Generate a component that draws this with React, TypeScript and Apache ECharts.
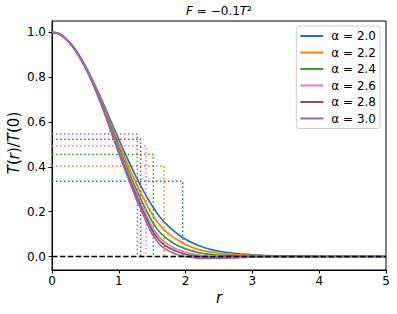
import React, { useEffect, useRef } from "react";
import * as echarts from "echarts";

const R = [0, 0.1, 0.2, 0.3, 0.4, 0.5, 0.6, 0.7, 0.8, 0.9, 1.0, 1.1, 1.2, 1.3, 1.4, 1.5, 1.6, 1.7, 1.8, 1.9, 2.0, 2.1, 2.2, 2.3, 2.4, 2.6, 2.8, 3.0, 3.25, 3.5, 4.0, 4.5, 5.0];

const A20 = [1.000, 0.994, 0.974, 0.943, 0.901, 0.850, 0.791, 0.727, 0.660, 0.591, 0.522, 0.455, 0.392, 0.332, 0.276, 0.225, 0.182, 0.148, 0.120, 0.096, 0.077, 0.061, 0.048, 0.038, 0.030, 0.019, 0.012, 0.008, 0.004, 0.002, 0, 0, 0];
const A22 = [1.000, 0.994, 0.973, 0.942, 0.899, 0.847, 0.787, 0.721, 0.650, 0.576, 0.503, 0.433, 0.366, 0.302, 0.242, 0.188, 0.145, 0.113, 0.089, 0.070, 0.054, 0.041, 0.031, 0.024, 0.019, 0.011, 0.007, 0.005, 0.003, 0.001, 0, 0, 0];
const A24 = [1.000, 0.993, 0.973, 0.941, 0.898, 0.845, 0.784, 0.715, 0.642, 0.564, 0.487, 0.413, 0.342, 0.275, 0.212, 0.156, 0.113, 0.084, 0.063, 0.047, 0.034, 0.025, 0.017, 0.012, 0.009, 0.004, 0.002, 0.002, 0.001, 0.001, 0, 0, 0];
const A26 = [1.000, 0.993, 0.972, 0.940, 0.896, 0.843, 0.781, 0.711, 0.635, 0.554, 0.475, 0.399, 0.325, 0.256, 0.191, 0.132, 0.089, 0.062, 0.043, 0.029, 0.019, 0.012, 0.007, 0.003, 0.001, -0.001, -0.001, 0, 0, 0, 0, 0, 0];
const A28 = [1.000, 0.993, 0.972, 0.940, 0.896, 0.842, 0.780, 0.709, 0.631, 0.548, 0.467, 0.390, 0.315, 0.243, 0.178, 0.117, 0.074, 0.048, 0.031, 0.019, 0.010, 0.004, 0.000, -0.002, -0.003, -0.004, -0.003, -0.002, -0.001, 0, 0, 0, 0];
const A30 = [1.000, 0.993, 0.972, 0.939, 0.895, 0.841, 0.778, 0.706, 0.627, 0.543, 0.460, 0.380, 0.303, 0.230, 0.163, 0.101, 0.058, 0.033, 0.017, 0.007, 0.000, -0.004, -0.007, -0.008, -0.008, -0.007, -0.005, -0.003, -0.001, 0, 0, 0, 0];

const NAMES = ["α = 2.0", "α = 2.2", "α = 2.4", "α = 2.6", "α = 2.8", "α = 3.0"];
const CURVES = [A20, A22, A24, A26, A28, A30];
const COLORS = ["#1f77b4", "#ff7f0e", "#2ca02c", "#e377c2", "#8c564b", "#9467bd"];
const CUT_HEIGHT = [0.336, 0.404, 0.455, 0.493, 0.523, 0.546];
const CUT_R = [1.956, 1.677, 1.517, 1.407, 1.327, 1.277];

const Y_TICKS = [0, 0.2, 0.4, 0.6, 0.8, 1.0];
const X_TICKS = [0, 1, 2, 3, 4, 5];

const FONT = "DejaVu Sans";

export default function App() {
  const ref = useRef<HTMLDivElement>(null);
  useEffect(() => {
    if (!ref.current) return;
    const chart = echarts.init(ref.current, null, { renderer: "svg" });
    const series: any[] = [];
    CURVES.forEach((vals, i) => {
      series.push({
        name: NAMES[i],
        type: "line",
        data: R.map((r, k) => [r, vals[k]]),
        symbol: "none",
        smooth: 0.3,
        lineStyle: { color: COLORS[i], width: 1.7 },
        itemStyle: { color: COLORS[i] },
        z: 3,
      });
      series.push({
        name: "cut" + i,
        type: "line",
        data: [[0, CUT_HEIGHT[i]], [CUT_R[i], CUT_HEIGHT[i]], [CUT_R[i], 0]],
        symbol: "none",
        lineStyle: { color: COLORS[i], width: 1.5, type: [1.5, 2.5] },
        z: 3,
      });
    });
    series.push({
      name: "zero",
      type: "line",
      data: [[0, 0], [5, 0]],
      symbol: "none",
      lineStyle: { color: "#000", width: 1.5, type: [5.5, 2.4] },
      z: 4,
    });

    chart.setOption({
      animation: false,
      backgroundColor: "#fff",
      grid: { left: 52, right: 11, top: 21, bottom: 44, show: true, borderColor: "#000", borderWidth: 1, backgroundColor: "transparent" },
      xAxis: {
        type: "value",
        min: 0,
        max: 5,
        interval: 1,
        splitLine: { show: false },
        axisLine: { show: true, onZero: false, lineStyle: { color: "#000", width: 1 } },
        axisTick: { show: true, length: 3.5, lineStyle: { color: "#000" }, customValues: X_TICKS },
        axisLabel: { color: "#000", fontSize: 12, fontFamily: FONT, margin: 5, customValues: X_TICKS, formatter: (v: number) => String(v) },
      },
      yAxis: {
        type: "value",
        min: -0.06,
        max: 1.05,
        splitLine: { show: false },
        axisLine: { show: true, onZero: false, lineStyle: { color: "#000", width: 1 } },
        axisTick: { show: true, length: 3.5, lineStyle: { color: "#000" }, customValues: Y_TICKS },
        axisLabel: { color: "#000", fontSize: 12, fontFamily: FONT, margin: 6, customValues: Y_TICKS, formatter: (v: number) => v.toFixed(1) },
      },
      legend: {
        data: NAMES,
        orient: "vertical",
        right: 17,
        top: 26,
        icon: "rect",
        itemWidth: 23,
        itemHeight: 2,
        itemGap: 4.5,
        padding: [4, 4, 4, 4],
        borderColor: "#cccccc",
        borderWidth: 1,
        borderRadius: 3,
        backgroundColor: "#fff",
        textStyle: { color: "#000", fontSize: 12, fontFamily: FONT, lineHeight: 12, padding: [0, 0, 0, 3] },
      },
      graphic: [
        {
          type: "text",
          x: 219,
          y: 11,
          style: {
            text: "{i|F} = −0.1{i|T}²",
            fill: "#000",
            font: `12px ${FONT}`,
            align: "center",
            verticalAlign: "middle",
            rich: { i: { fontStyle: "italic", fontSize: 12, fontFamily: FONT } },
          },
        },
        {
          type: "text",
          x: 219,
          y: 298,
          style: {
            text: "r",
            fill: "#000",
            font: `italic 15px ${FONT}`,
            align: "center",
            verticalAlign: "middle",
          },
        },
        {
          type: "text",
          x: 14,
          y: 143,
          rotation: Math.PI / 2,
          style: {
            text: "{i|T}({i|r})/{i|T}(0)",
            fill: "#000",
            font: `15px ${FONT}`,
            align: "center",
            verticalAlign: "middle",
            rich: { i: { fontStyle: "italic", fontSize: 15, fontFamily: FONT } },
          },
        },
      ],
      series,
    });
    return () => chart.dispose();
  }, []);
  return <div ref={ref} style={{ position: "fixed", left: 0, top: 0, width: 397, height: 314 }} />;
}
